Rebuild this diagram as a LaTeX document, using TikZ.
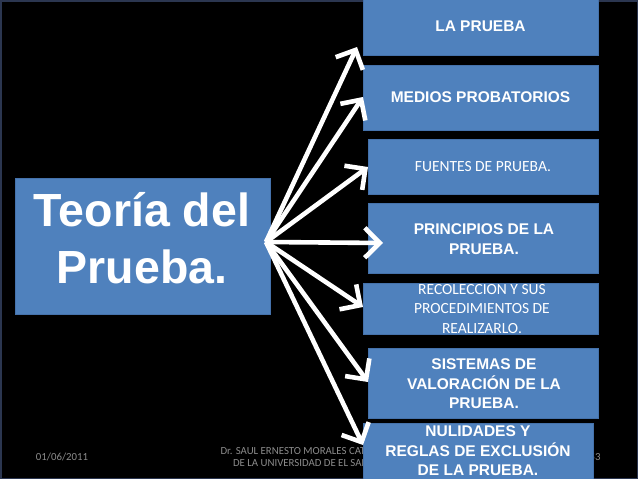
\documentclass[tikz,border=0pt]{standalone}
\usepackage{fontspec}
\setmainfont{Liberation Sans}
\newfontfamily\calib{Carlito}
\usetikzlibrary{arrows.meta}
\definecolor{boxblue}{HTML}{4F81BD}
\definecolor{boxedge}{HTML}{4572AB}
\definecolor{frameblue}{HTML}{2B3650}
\definecolor{footgray}{HTML}{8C8C8C}
\begin{document}
\begin{tikzpicture}[x=1pt,y=-1pt,
  bx/.style={fill=boxblue,draw=boxedge,line width=0.6pt,inner sep=0pt,minimum width=#1},
  bx/.default=230pt,
  bold/.style={text=white,font=\bfseries\fontsize{15.5}{19.5}\selectfont,align=center,inner sep=0pt},
  reg/.style={text=white,font=\calib\fontsize{15.5}{19.5}\selectfont,align=center,inner sep=0pt},
  foot/.style={text=footgray,font=\calib\fontsize{10.8}{11.5}\selectfont,align=center,inner sep=0pt},
  arr/.style={draw=white,line width=4.6pt,-{Straight Barb[length=15pt,width=30pt,line width=4.6pt]}}
]
\useasboundingbox (0,0) rectangle (638,479);
\clip (0,0) rectangle (638,479);
\fill[black] (0,0) rectangle (638,479);
\draw[frameblue,line width=1.5pt] (0.75,0.75) rectangle (637.25,478.25);

% main box
\node[bx=255pt,minimum height=136pt] (main) at (142.5,246) {};
\node[text=white,font=\bfseries\fontsize{46.5}{57}\selectfont,align=center,inner sep=0pt] (mainlbl) at (142,238) {Teoría del\\Prueba.};

% footer (behind last box)
\node[foot] (date) at (62,457) {01/06/2011};
\node[foot] (author) at (315,457) {Dr. SAUL ERNESTO MORALES CATEDRATICO\\DE LA UNIVERSIDAD DE EL SALVADOR};
\node[foot] (page) at (595,457) {53};

% right boxes
\node[bx=235pt,minimum height=58pt] (b1) at (480.5,26) {};
\node[bold] (l1) at (b1) {LA PRUEBA};
\node[bx=235pt,minimum height=65pt] (b2) at (480.5,97.5) {};
\node[bold] (l2) at (b2) {MEDIOS PROBATORIOS};
\node[bx=230pt,minimum height=55pt] (b3) at (483,166.5) {};
\node[reg] (l3) at (b3) {FUENTES DE PRUEBA.};
\node[bx=230pt,minimum height=70pt] (b4) at (483,238) {};
\node[bold] (l4) at (484,239) {PRINCIPIOS DE LA\\PRUEBA.};
\node[bx=235pt,minimum height=51pt] (b5) at (480.5,308.5) {};
\node[reg] (l5) at (482,309) {RECOLECCION Y SUS\\PROCEDIMIENTOS DE\\REALIZARLO.};
\node[bx=230pt,minimum height=70pt] (b6) at (483,383) {};
\node[bold] (l6) at (484,384) {SISTEMAS DE\\VALORACIÓN DE LA\\PRUEBA.};
\node[bx=230pt,minimum height=70pt] (b7) at (478,458) {};
\node[bold] (l7) at (478,451) {NULIDADES Y\\REGLAS DE EXCLUSIÓN\\DE LA PRUEBA.};

% connectors
\coordinate (src) at (266,242);
\coordinate (t1) at (357,47);
\coordinate (t2) at (363,97);
\coordinate (t3) at (368,167);
\coordinate (t4) at (383,243);
\coordinate (t5) at (363,307);
\coordinate (t6) at (368,382);
\coordinate (t7) at (363,445);
\foreach \t in {t1,t2,t3,t4,t5,t6,t7} \draw[arr] (src) -- (\t);
\end{tikzpicture}
\end{document}
